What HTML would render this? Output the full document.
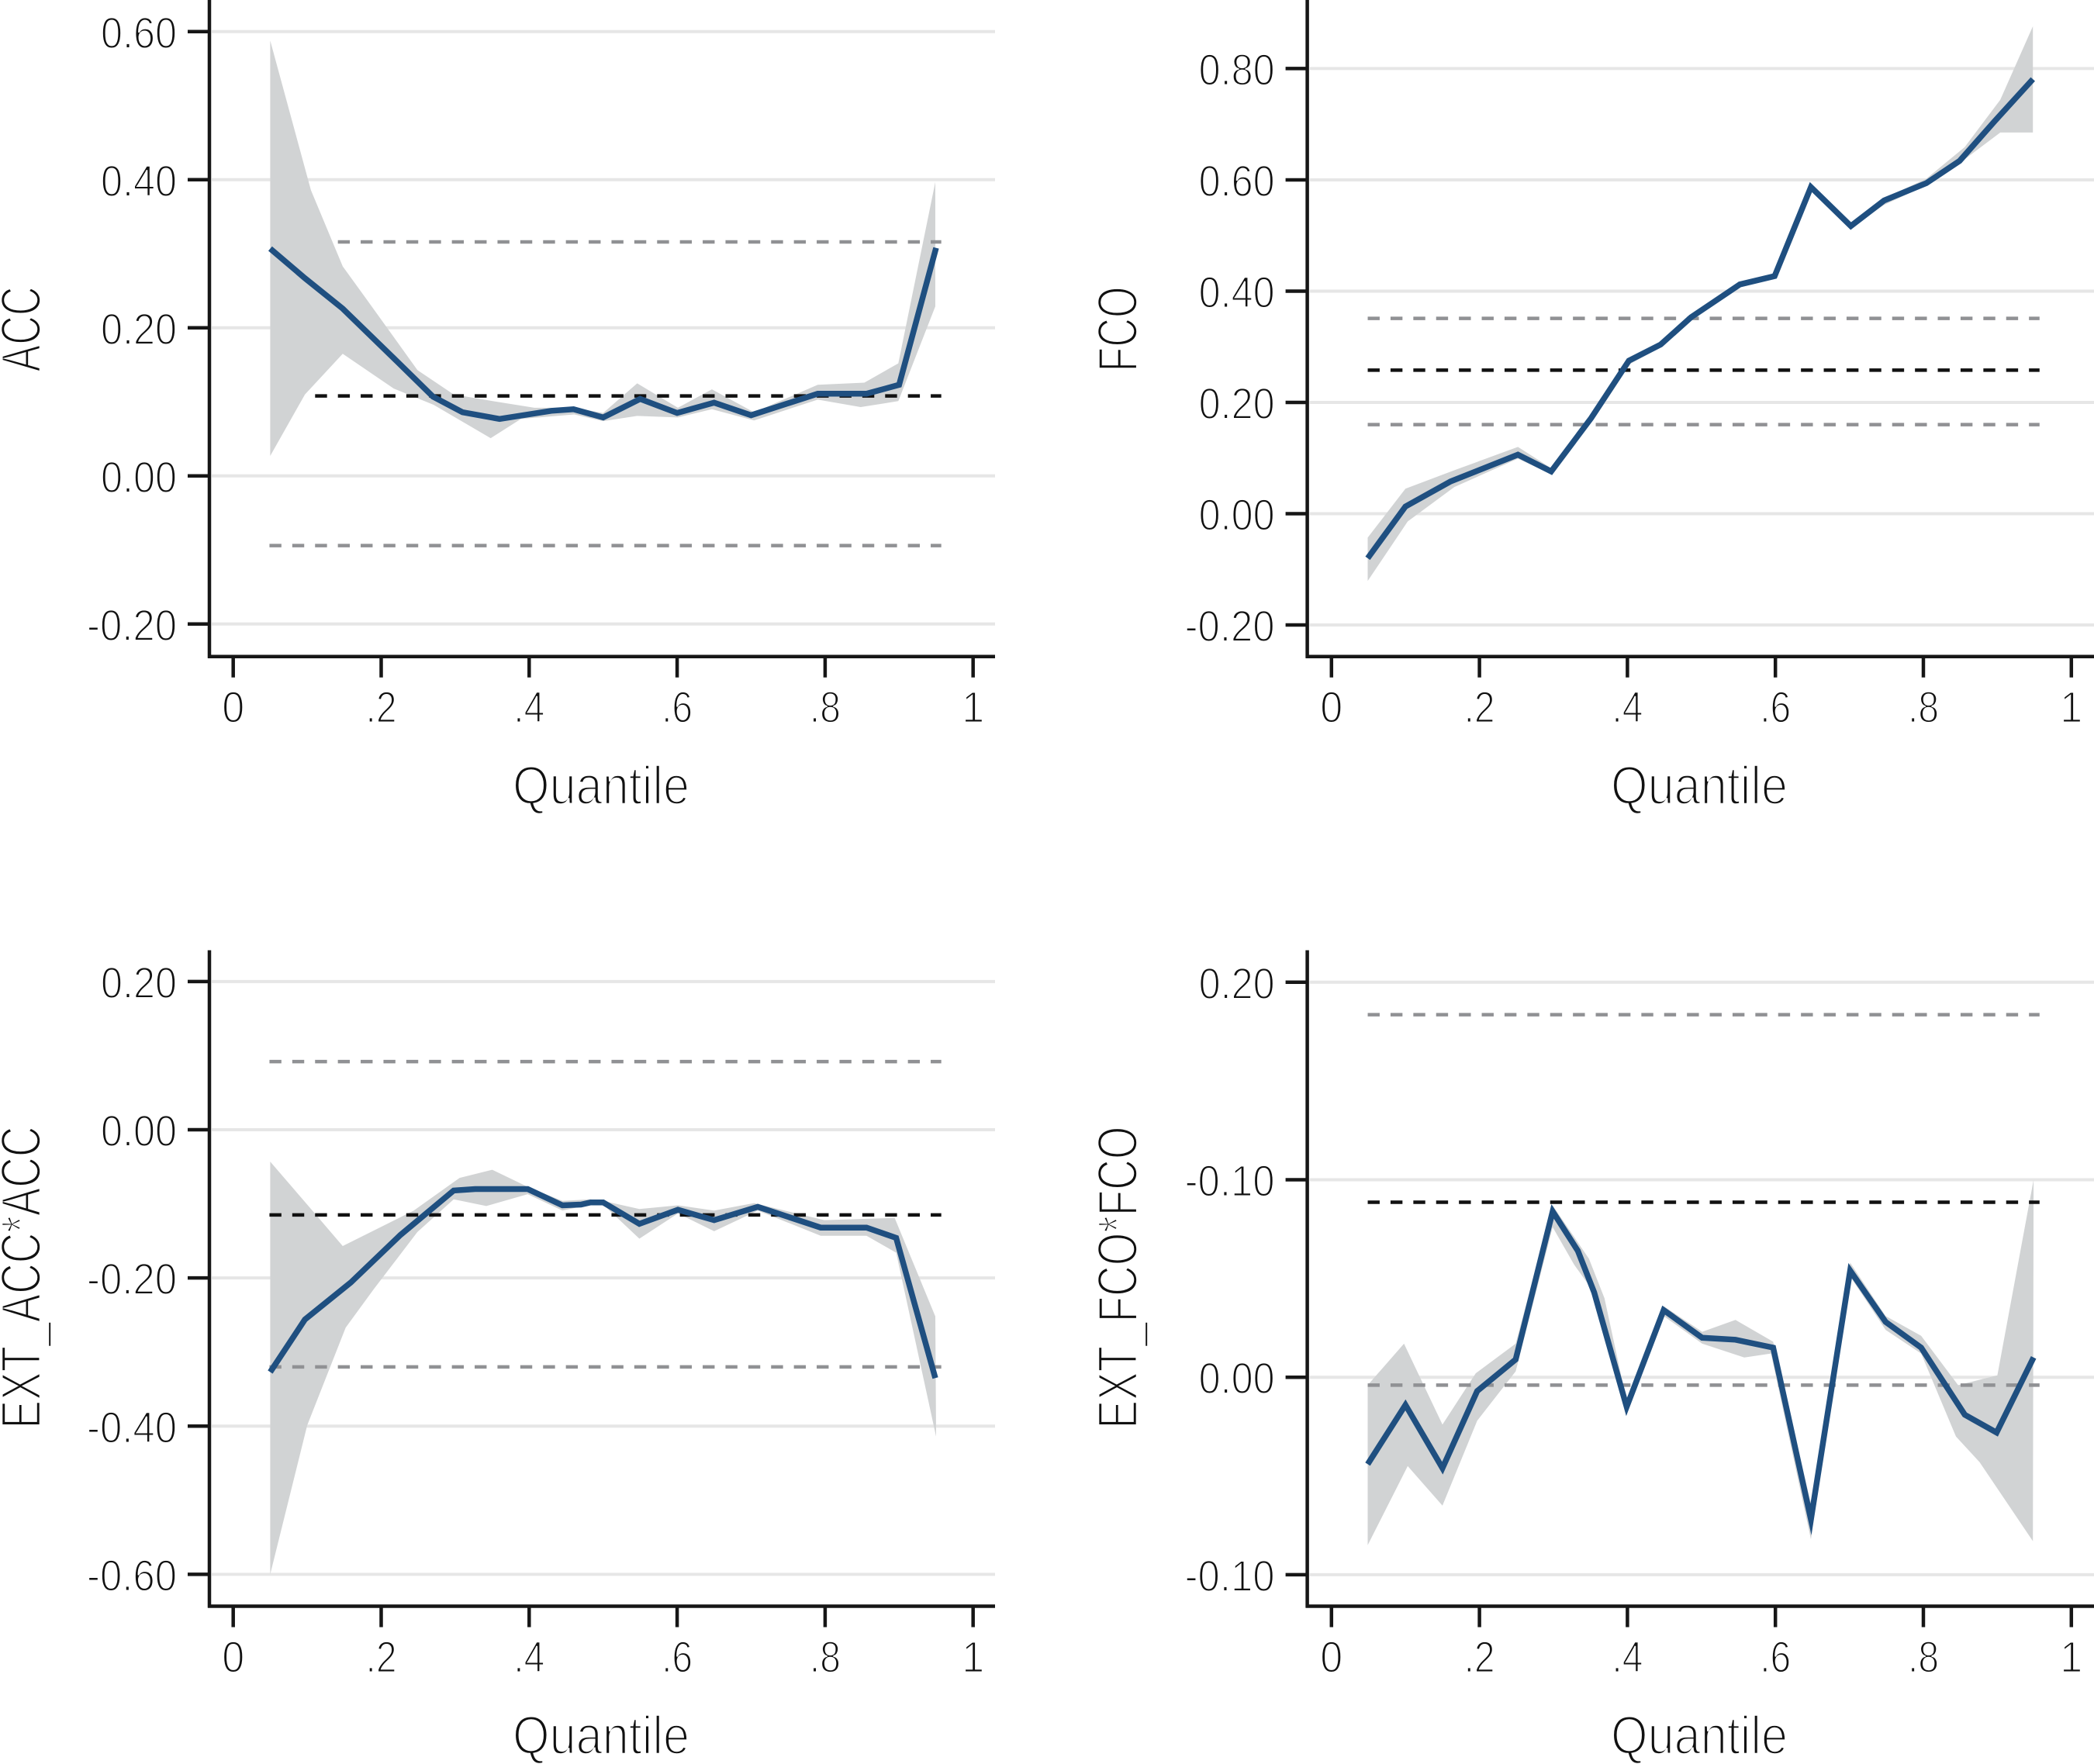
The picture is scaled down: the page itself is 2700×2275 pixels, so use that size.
<!DOCTYPE html>
<html lang="en">
<head>
<meta charset="utf-8">
<title>Quantile regression coefficients</title>
<style>
html,body{margin:0;padding:0;background:#fff;width:2700px;height:2275px;overflow:hidden}
svg{display:block}
text{font-family:"Liberation Sans",sans-serif;fill:#111;stroke:#fff;stroke-width:2.6px}
text.tick-text{stroke-width:1.9px}
</style>
</head>
<body>
<svg id="chart" xmlns="http://www.w3.org/2000/svg" width="2700" height="2275" viewBox="0 0 2700 2275">
  <g id="panel-acc">
    <text transform="translate(52,424.5) rotate(-90)" text-anchor="middle" font-size="72" textLength="110" lengthAdjust="spacingAndGlyphs">ACC</text>
    <text x="775" y="1037" text-anchor="middle" font-size="70" textLength="228" lengthAdjust="spacingAndGlyphs">Quantile</text>
  </g>
  <g id="panel-fco">
    <text transform="translate(1466,424.5) rotate(-90)" text-anchor="middle" font-size="72" textLength="110" lengthAdjust="spacingAndGlyphs">FCO</text>
    <text x="2191" y="1037" text-anchor="middle" font-size="70" textLength="228" lengthAdjust="spacingAndGlyphs">Quantile</text>
  </g>
  <g id="panel-ext-acc">
    <text transform="translate(52,1647.5) rotate(-90)" text-anchor="middle" font-size="72" textLength="390" lengthAdjust="spacingAndGlyphs">EXT_ACC*ACC</text>
    <text x="775" y="2262" text-anchor="middle" font-size="70" textLength="228" lengthAdjust="spacingAndGlyphs">Quantile</text>
  </g>
  <g id="panel-ext-fco">
    <text transform="translate(1466,1647.5) rotate(-90)" text-anchor="middle" font-size="72" textLength="390" lengthAdjust="spacingAndGlyphs">EXT_FCO*FCO</text>
    <text x="2191" y="2262" text-anchor="middle" font-size="70" textLength="228" lengthAdjust="spacingAndGlyphs">Quantile</text>
  </g>
</svg>
<script>
// Shared x axis
const xTickValues = [0, 0.2, 0.4, 0.6, 0.8, 1];
const xTickLabels = ['0', '.2', '.4', '.6', '.8', '1'];

// Panel ACC
const accTickValues = [0.6, 0.4, 0.2, 0, -0.2];
const accTickLabels = ['0.60', '0.40', '0.20', '0.00', '-0.20'];
const accQ = [.05,.097,.148,.22,.27,.31,.36,.43,.46,.5,.55,.6,.65,.7,.79,.856,.9,.95];
const accCoef = [.307,.267,.226,.156,.107,.086,.077,.088,.09,.079,.104,.085,.099,.082,.111,.111,.123,.308];
const accUpperQ = [.05,.105,.148,.177,.249,.298,.357,.407,.461,.5,.546,.601,.647,.704,.79,.853,.899,.949];
const accUpper = [.588,.386,.283,.243,.143,.11,.1,.092,.092,.085,.125,.092,.117,.086,.123,.126,.152,.397];
const accLowerQ = [.05,.097,.148,.217,.271,.348,.389,.461,.5,.546,.601,.647,.704,.79,.848,.899,.949];
const accLower = [.027,.11,.165,.118,.096,.051,.077,.083,.074,.081,.079,.09,.075,.103,.093,.101,.229];
const accRefValues = [.316,.108,-.094];
const accRefStarts = [.14,.109,.049];

// Panel FCO
const fcoTickValues = [0.8, 0.6, 0.4, 0.2, 0, -0.2];
const fcoTickLabels = ['0.80', '0.60', '0.40', '0.20', '0.00', '-0.20'];
const fcoQ = [.049,.1,.161,.252,.297,.351,.402,.445,.486,.552,.599,.648,.702,.747,.804,.849,.896,.948];
const fcoCoef = [-.08,.013,.058,.106,.076,.172,.275,.304,.353,.412,.427,.587,.517,.563,.594,.634,.705,.781];
const fcoUpperQ = [.049,.1,.168,.252,.297,.351,.402,.445,.486,.552,.599,.648,.702,.747,.804,.856,.904,.948];
const fcoUpper = [-.043,.045,.079,.12,.082,.177,.28,.309,.358,.414,.432,.59,.522,.567,.602,.659,.744,.876];
const fcoLowerQ = [.049,.103,.166,.252,.297,.351,.402,.445,.486,.552,.599,.648,.702,.747,.804,.849,.904,.948];
const fcoLower = [-.121,-.014,.048,.099,.071,.165,.268,.299,.348,.407,.422,.584,.513,.555,.59,.63,.685,.685];
const fcoRefValues = [.351,.258,.16];
const fcoRefStarts = [.049,.049,.049];

// Panel EXT_ACC*ACC
const extAccTickValues = [0.2, 0, -0.2, -0.4, -0.6];
const extAccTickLabels = ['0.20', '0.00', '-0.20', '-0.40', '-0.60'];
const extAccQ = [.05,.097,.159,.226,.298,.327,.398,.445,.47,.483,.5,.549,.601,.65,.709,.794,.856,.896,.949];
const extAccCoef = [-.327,-.256,-.206,-.142,-.082,-.08,-.08,-.102,-.101,-.098,-.098,-.127,-.108,-.122,-.104,-.132,-.132,-.146,-.335];
const extAccUpperQ = [.05,.1,.148,.244,.306,.35,.398,.445,.483,.5,.549,.601,.65,.704,.799,.894,.949];
const extAccUpper = [-.043,-.101,-.157,-.109,-.065,-.054,-.077,-.096,-.094,-.096,-.107,-.102,-.109,-.099,-.122,-.119,-.252];
const extAccLowerQ = [.05,.1,.152,.19,.249,.298,.342,.398,.445,.483,.5,.549,.601,.65,.709,.794,.856,.896,.95];
const extAccLower = [-.6,-.399,-.267,-.215,-.138,-.094,-.103,-.087,-.109,-.101,-.101,-.147,-.113,-.137,-.109,-.143,-.143,-.166,-.414];
const extAccRefValues = [.092,-.115,-.32];
const extAccRefStarts = [.049,.049,.049];

// Panel EXT_FCO*FCO (tick labels printed as in the source figure)
const extFcoTickValues = [0.2, 0.1, 0, -0.1];
const extFcoTickLabels = ['0.20', '-0.10', '0.00', '-0.10'];
const extFcoQ = [.049,.1,.15,.197,.249,.299,.333,.355,.399,.449,.501,.546,.597,.648,.701,.749,.797,.856,.899,.949];
const extFcoCoef = [-.044,-.014,-.046,-.007,.009,.084,.064,.043,-.015,.034,.02,.019,.015,-.072,.054,.028,.015,-.019,-.028,.01];
const extFcoUpperQ = [.049,.098,.15,.195,.249,.299,.348,.369,.399,.449,.501,.546,.597,.648,.701,.749,.797,.847,.9,.949];
const extFcoUpper = [-.004,.017,-.024,.002,.017,.087,.06,.04,-.012,.036,.023,.029,.018,-.064,.058,.031,.021,-.004,.001,.1];
const extFcoLowerQ = [.049,.103,.15,.197,.249,.299,.328,.351,.399,.449,.501,.558,.594,.648,.701,.749,.797,.844,.876,.948];
const extFcoLower = [-.085,-.045,-.065,-.022,.003,.076,.057,.045,-.017,.031,.017,.01,.012,-.082,.051,.024,.012,-.03,-.043,-.083];
const extFcoRefValues = [.1836,.0886,-.004];
const extFcoRefStarts = [.049,.049,.049];

const SVG_NS = 'http://www.w3.org/2000/svg';
const REF_COLORS = ['#909194', '#111111', '#909194'];

function make(tag, parent, attrs) {
  const node = document.createElementNS(SVG_NS, tag);
  for (const key in attrs) node.setAttribute(key, attrs[key]);
  parent.appendChild(node);
  return node;
}

function labelWidth(label) {
  let w = 0;
  for (const ch of label) w += ch === '.' ? 11 : ch === '-' ? 18 : 29;
  return w;
}

function drawPanel(p) {
  const group = document.getElementById(p.id);
  const first = group.firstChild;
  const layer = document.createElementNS(SVG_NS, 'g');
  group.insertBefore(layer, first);
  
  

  const xScale = q => p.x0 + q * 954;
  const yScale = v => p.zeroY - v * p.pxPerUnit;
  const pts = (qs, vs) => qs.map((q, i) => xScale(q).toFixed(1) + ',' + yScale(vs[i]).toFixed(1));

  // gridlines
  p.yTicks.forEach(v => {
    const grid = make('line', layer, {x1: p.axisX + 3, x2: p.right, y1: yScale(v), y2: yScale(v), stroke: '#e6e6e6', 'stroke-width': 4});
    
    
  });

  // confidence band
  const bandPoints = pts(p.upperQ, p.upper).concat(pts(p.lowerQ, p.lower).reverse()).join(' ');
  const band = make('polygon', layer, {points: bandPoints, fill: '#d1d3d4'});
  
  

  // dashed reference lines
  p.refValues.forEach((v, i) => {
    const ref = make('line', layer, {
      x1: xScale(p.refStarts[i]), x2: xScale(0.957), y1: yScale(v), y2: yScale(v),
      stroke: REF_COLORS[i], 'stroke-width': 4.5, 'stroke-dasharray': '15.4 14',
      'stroke-dashoffset': ((xScale(p.refStarts[i]) - xScale(0.049)) % 29.4).toFixed(1)
    });
    
    
  });

  // coefficient line
  const line = make('polyline', layer, {points: pts(p.q, p.coef).join(' '), fill: 'none', stroke: '#1f4f80', 'stroke-width': 7.5, 'stroke-linejoin': 'miter', 'stroke-miterlimit': 8});
  
  

  // axes
  const yAxis = make('line', layer, {x1: p.axisX, x2: p.axisX, y1: p.top, y2: p.axisY + 2, stroke: '#161616', 'stroke-width': 4.5});
  
  
  const xAxis = make('line', layer, {x1: p.axisX - 2, x2: p.right, y1: p.axisY, y2: p.axisY, stroke: '#161616', 'stroke-width': 4.5});
  
  

  // y ticks and labels
  p.yTicks.forEach((v, i) => {
    const tick = make('line', layer, {x1: p.axisX - 28, x2: p.axisX, y1: yScale(v), y2: yScale(v), stroke: '#161616', 'stroke-width': 4.5});
    
    
    const label = make('text', layer, {class: 'tick-text', x: p.axisX - 42, y: yScale(v) + 21, 'text-anchor': 'end', 'font-size': 57, textLength: labelWidth(p.yLabels[i]), lengthAdjust: 'spacingAndGlyphs'});
    label.textContent = p.yLabels[i];
    
    
  });

  // x ticks and labels
  xTickValues.forEach((q, i) => {
    const tick = make('line', layer, {x1: xScale(q), x2: xScale(q), y1: p.axisY, y2: p.axisY + 27, stroke: '#161616', 'stroke-width': 4.5});
    
    
    const label = make('text', layer, {class: 'tick-text', x: xScale(q), y: p.axisY + 85, 'text-anchor': 'middle', 'font-size': 57, textLength: labelWidth(xTickLabels[i]), lengthAdjust: 'spacingAndGlyphs'});
    label.textContent = xTickLabels[i];
    
    
  });
}

drawPanel({id: 'panel-acc', key: 'acc', x0: 300.7, axisX: 270, axisY: 846.7, top: 0, right: 1283, zeroY: 613.8, pxPerUnit: 955,
  yTicks: accTickValues, yLabels: accTickLabels, q: accQ, coef: accCoef, upperQ: accUpperQ, upper: accUpper, lowerQ: accLowerQ, lower: accLower, refValues: accRefValues, refStarts: accRefStarts});
drawPanel({id: 'panel-fco', key: 'fco', x0: 1716.8, axisX: 1685.6, axisY: 846.7, top: 0, right: 2700, zeroY: 662.5, pxPerUnit: 717.6,
  yTicks: fcoTickValues, yLabels: fcoTickLabels, q: fcoQ, coef: fcoCoef, upperQ: fcoUpperQ, upper: fcoUpper, lowerQ: fcoLowerQ, lower: fcoLower, refValues: fcoRefValues, refStarts: fcoRefStarts});
drawPanel({id: 'panel-ext-acc', key: 'ext-acc', x0: 300.7, axisX: 270, axisY: 2071.5, top: 1225.5, right: 1283, zeroY: 1457, pxPerUnit: 955.7,
  yTicks: extAccTickValues, yLabels: extAccTickLabels, q: extAccQ, coef: extAccCoef, upperQ: extAccUpperQ, upper: extAccUpper, lowerQ: extAccLowerQ, lower: extAccLower, refValues: extAccRefValues, refStarts: extAccRefStarts});
drawPanel({id: 'panel-ext-fco', key: 'ext-fco', x0: 1716.8, axisX: 1685.6, axisY: 2071.5, top: 1225.5, right: 2700, zeroY: 1776.2, pxPerUnit: 2547,
  yTicks: extFcoTickValues, yLabels: extFcoTickLabels, q: extFcoQ, coef: extFcoCoef, upperQ: extFcoUpperQ, upper: extFcoUpper, lowerQ: extFcoLowerQ, lower: extFcoLower, refValues: extFcoRefValues, refStarts: extFcoRefStarts});
</script>
</body>
</html>
